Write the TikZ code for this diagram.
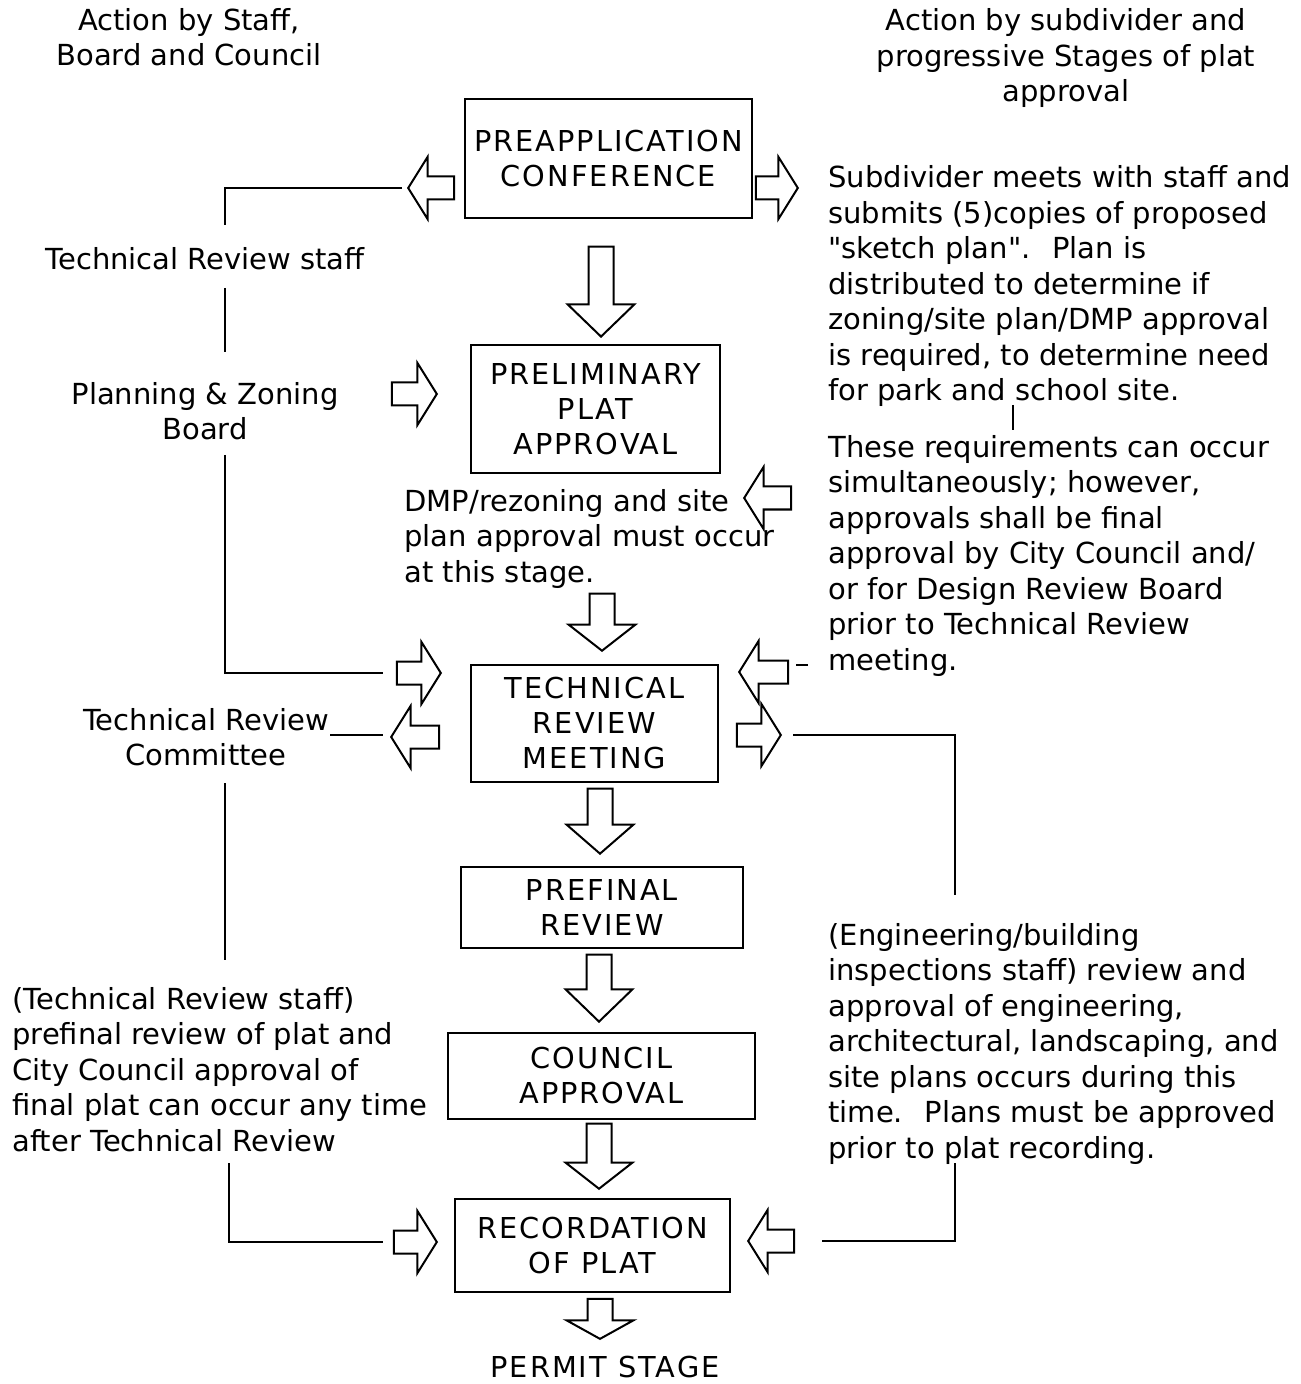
\documentclass[tikz,border=0pt]{standalone}
\usepackage{fontspec}
\setmainfont{DejaVu Sans}
\newfontfamily\txtfam{DejaVu Sans}
\newfontfamily\boxfnt[LetterSpace=7]{DejaVu Sans}
\usetikzlibrary{shapes.arrows}
\newcommand{\txtf}{\txtfam\fontsize{14.5}{17.75}\selectfont}
\newcommand{\boxf}{\boxfnt\fontsize{14.4}{17.5}\selectfont}
\begin{document}
\begin{tikzpicture}[x=0.5pt,y=-0.5pt,
  lbl/.style={font=\txtf, inner sep=0pt, align=left, anchor=base west},
  clbl/.style={font=\txtf, inner sep=0pt, align=center, anchor=base},
  stage/.style={draw, line width=1.4pt, font=\boxf, align=center, inner sep=0pt},
  sarw/.style={shape=single arrow, draw, line width=1pt, inner sep=0pt, inner ysep=5.25pt,
    single arrow head extend=9.75pt, single arrow tip angle=116, anchor=tip},
  darw/.style={shape=single arrow, draw, line width=1pt, inner sep=0pt, inner ysep=5.75pt,
    single arrow head extend=10.5pt, single arrow tip angle=92, rotate=-90, anchor=tip},
  conn/.style={line width=1.1pt}
]
\useasboundingbox (0,0) rectangle (1300,1384);

% stage boxes
\node[stage, minimum width=143.5pt, minimum height=59.5pt] (pre) at (608.5,158.5) {PREAPPLICATION\\CONFERENCE};
\node[stage, minimum width=124.5pt, minimum height=64pt] (prel) at (595.5,409) {PRELIMINARY\\PLAT\\APPROVAL};
\node[stage, minimum width=123.5pt, minimum height=58.5pt] (trm) at (594.5,723.5) {TECHNICAL\\REVIEW\\MEETING};
\node[stage, minimum width=141pt, minimum height=40.5pt] (pref) at (602,907.5) {PREFINAL\\REVIEW};
\node[stage, minimum width=153.5pt, minimum height=43pt] (cou) at (601.5,1076) {COUNCIL\\APPROVAL};
\node[stage, minimum width=137.5pt, minimum height=46.5pt] (rec) at (592.5,1245.5) {RECORDATION\\OF PLAT};
\node[font=\boxf, inner sep=0pt, anchor=base] (ps) at (605,1377) {PERMIT STAGE};

% down block arrows
\node[darw, minimum height=45pt] (d1) at (601,338) {};
\node[darw, minimum height=28.5pt, single arrow tip angle=104] (d2) at (602,652) {};
\node[darw, minimum height=32.5pt, single arrow tip angle=98] (d3) at (600,855) {};
\node[darw, minimum height=33.5pt] (d4) at (599,1023) {};
\node[darw, minimum height=32.5pt, single arrow tip angle=104] (d5) at (599,1190) {};
\node[darw, minimum height=20pt, single arrow tip angle=122] (d6) at (600,1340) {};

% side block arrows
\node[sarw, minimum height=23pt, rotate=180] (al1) at (407,188) {};
\node[sarw, minimum height=21pt] (ar1) at (799,188) {};
\node[sarw, minimum height=22.5pt] (apz) at (438,394) {};
\node[sarw, minimum height=23.5pt, rotate=180] (admp) at (743,498) {};
\node[sarw, minimum height=22pt] (atr1) at (442,673) {};
\node[sarw, minimum height=24pt, rotate=180] (atr2) at (390,737) {};
\node[sarw, minimum height=24.5pt, rotate=180] (atr3) at (738,672) {};
\node[sarw, minimum height=22pt] (atr4) at (782,735) {};
\node[sarw, minimum height=21.5pt] (arc1) at (438,1242) {};
\node[sarw, minimum height=23pt, rotate=180] (arc2) at (747,1241) {};

% texts (base anchor = baseline of the last line)
\node[clbl] (h1) at (189,66) {Action by Staff,\\Board and Council};
\node[clbl] (h2) at (1066,102) {Action by subdivider and\\progressive Stages of plat\\approval};
\node[lbl] (r1) at (828,401) {Subdivider meets with staff and\\submits (5)copies of proposed\\"sketch plan".~ Plan is\\distributed to determine if\\zoning/site plan/DMP approval\\is required, to determine need\\for park and school site.};
\node[lbl] (r2) at (828,670) {These requirements can occur\\simultaneously; however,\\approvals shall be final\\approval by City Council and/\\or for Design Review Board\\prior to Technical Review\\meeting.};
\node[lbl] (r3) at (828,1158) {(Engineering/building\\inspections staff) review and\\approval of engineering,\\architectural, landscaping, and\\site plans occurs during this\\time.~ Plans must be approved\\prior to plat recording.};
\node[lbl] (l1) at (12,1151) {(Technical Review staff)\\prefinal review of plat and\\City Council approval of\\final plat can occur any time\\after Technical Review};
\node[lbl] (trs) at (45,270) {Technical Review staff};
\node[clbl] (pz) at (205,440) {Planning \& Zoning\\Board};
\node[clbl] (trc) at (206,765.5) {Technical Review\\Committee};
\node[lbl] (dmp) at (404,582) {DMP/rezoning and site\\plan approval must occur\\at this stage.};

% connectors
\coordinate (c1) at (225,225);
\draw[conn, shorten <=2.5pt] (al1.tip) -| (c1);
\coordinate (c2a) at (225,288);
\coordinate (c2b) at (225,352);
\draw[conn] (c2a) -- (c2b);
\coordinate (c3) at (225,455);
\draw[conn, shorten >=6.5pt] (c3) |- (atr1.tail);
\coordinate (c4) at (330,735);
\draw[conn, shorten >=3.5pt] (c4) -- (c4 -| atr2.tip);
\coordinate (c5a) at (225,783);
\coordinate (c5b) at (225,960);
\draw[conn] (c5a) -- (c5b);
\coordinate (c6) at (229,1163);
\draw[conn, shorten >=5pt] (c6) |- (arc1.tail);
\coordinate (c7) at (955,895);
\draw[conn, shorten <=5.5pt] (atr4.tip) -| (c7);
\coordinate (c8) at (955,1163);
\draw[conn, shorten >=13.5pt] (c8) |- (arc2.tail);
\coordinate (c9) at (808,665);
\draw[conn, shorten >=3.5pt] (c9) -- (c9 -| atr3.tail);
\coordinate (c10a) at (1013,405);
\coordinate (c10b) at (1013,430);
\draw[conn] (c10a) -- (c10b);
\end{tikzpicture}
\end{document}
